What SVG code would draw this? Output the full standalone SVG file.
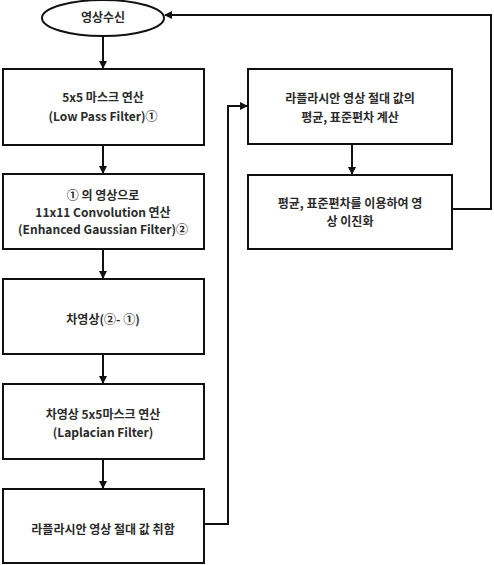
<svg xmlns="http://www.w3.org/2000/svg" width="494" height="565" viewBox="0 0 494 565">
  <style>
    .box { fill: #ffffff; stroke: #111111; stroke-width: 2; }
    .lbl { font-family: "Noto Sans CJK KR", "Liberation Sans", sans-serif; font-size: 12px; font-weight: bold; fill: #2a2a2a; text-anchor: middle; }
    .wire { fill: none; stroke: #111111; stroke-width: 2; }
  </style>
  <defs>
    <marker id="arrow" markerWidth="8" markerHeight="8" refX="7" refY="4" orient="auto" markerUnits="userSpaceOnUse">
      <path d="M0,0 L8,4 L0,8 Z" fill="#111111"/>
    </marker>
  </defs>
  <rect width="494" height="565" fill="#ffffff"/>

  <g id="connectors">
    <line class="wire" x1="103" y1="36" x2="103" y2="68" marker-end="url(#arrow)"/>
    <line class="wire" x1="103" y1="145" x2="103" y2="173" marker-end="url(#arrow)"/>
    <line class="wire" x1="103" y1="249" x2="103" y2="278" marker-end="url(#arrow)"/>
    <line class="wire" x1="103" y1="354" x2="103" y2="383" marker-end="url(#arrow)"/>
    <line class="wire" x1="103" y1="459" x2="103" y2="488" marker-end="url(#arrow)"/>
    <polyline class="wire" points="204,524 228,524 228,106 247,106" marker-end="url(#arrow)"/>
    <line class="wire" x1="352" y1="144" x2="352" y2="174" marker-end="url(#arrow)"/>
    <polyline class="wire" points="452,209 491,209 491,15 165,15" marker-end="url(#arrow)"/>
  </g>

  <g id="start">
    <ellipse class="box" cx="103" cy="18" rx="61" ry="18"/>
    <text class="lbl" x="103" y="22">영상수신</text>
  </g>

  <g id="lowpass">
    <rect class="box" x="3" y="69" width="201" height="76"/>
    <text class="lbl" x="103" y="102">5x5 마스크 연산</text>
    <text class="lbl" x="103" y="121">(Low Pass Filter)①</text>
  </g>

  <g id="gaussian">
    <rect class="box" x="3" y="174" width="201" height="75"/>
    <text class="lbl" x="103" y="200">① 의 영상으로</text>
    <text class="lbl" x="103" y="217">11x11 Convolution 연산</text>
    <text class="lbl" x="103" y="234">(Enhanced Gaussian Filter)②</text>
  </g>

  <g id="difference">
    <rect class="box" x="3" y="279" width="201" height="75"/>
    <text class="lbl" x="103" y="324">차영상(②- ①)</text>
  </g>

  <g id="laplacian">
    <rect class="box" x="3" y="384" width="201" height="75"/>
    <text class="lbl" x="103" y="419">차영상 5x5마스크 연산</text>
    <text class="lbl" x="103" y="437">(Laplacian Filter)</text>
  </g>

  <g id="absolute">
    <rect class="box" x="3" y="489" width="201" height="74"/>
    <text class="lbl" x="103" y="534">라플라시안 영상 절대 값 취함</text>
  </g>

  <g id="statistics">
    <rect class="box" x="248" y="69" width="204" height="75"/>
    <text class="lbl" x="350" y="103">라플라시안 영상 절대 값의</text>
    <text class="lbl" x="350" y="122">평균, 표준편차 계산</text>
  </g>

  <g id="binarize">
    <rect class="box" x="248" y="175" width="204" height="74"/>
    <text class="lbl" x="350" y="208">평균, 표준편차를 이용하여 영</text>
    <text class="lbl" x="350" y="226">상 이진화</text>
  </g>
</svg>
